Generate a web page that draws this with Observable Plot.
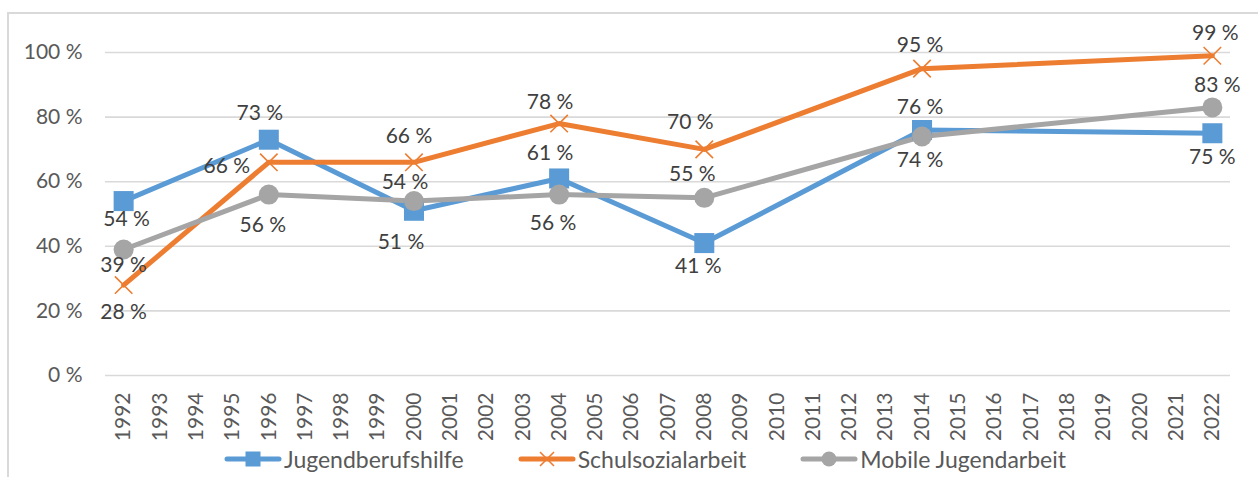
<!DOCTYPE html>
<html>
<head>
<meta charset="utf-8">
<script src="https://cdn.jsdelivr.net/npm/d3@7"></script>
<script src="https://cdn.jsdelivr.net/npm/@observablehq/plot@0.6"></script>
<style>
  html, body { margin: 0; padding: 0; background: #fff; }
  body { width: 1258px; height: 477px; position: relative; overflow: hidden; font-family: Lato, "Noto Sans", sans-serif; }
  #frame { position: absolute; left: 7px; top: 12px; width: 1300px; height: 500px; border-left: 2px solid #d9d9d9; border-top: 2px solid #d9d9d9; box-sizing: border-box; }
  #chart { position: absolute; left: 0; top: 0; }
  #legend { position: absolute; left: 0; top: 440px; width: 1258px; height: 37px; display: flex; align-items: center; justify-content: center; padding-left: 32px; box-sizing: border-box; font-size: 23px; color: #595959; }
  .item { display: flex; align-items: center; margin: 0 27px; }
  .item svg { margin-right: 2px; }
</style>
</head>
<body>
<div id="frame"></div>
<div id="chart"></div>
<div id="legend"></div>
<script>
// ---- data ----
const allYears = d3.range(1992, 2023);          // category axis 1992..2022
const surveyYears = [1992, 1996, 2000, 2004, 2008, 2014, 2022];
const seriesNames = ["Jugendberufshilfe", "Schulsozialarbeit", "Mobile Jugendarbeit"];
const jugendberufshilfe = [54, 73, 51, 61, 41, 76, 75];
const schulsozialarbeit = [28, 66, 66, 78, 70, 95, 99];
const mobileJugendarbeit = [39, 56, 54, 56, 55, 74, 83];
const yTicks = [0, 20, 40, 60, 80, 100];

// ---- label placement (layout only) ----
const labelDy = {
  "Jugendberufshilfe":   [18, -26, 31, -25, 23, -23, 24],
  "Schulsozialarbeit":   [27, 4, -26, -21, -27, -23, -22],
  "Mobile Jugendarbeit": [16, 31, -19, 29, -24, 24, -22]
};
const labelDx = {
  "Jugendberufshilfe":   [3, -9, -13, -9, -6, -2, 0],
  "Schulsozialarbeit":   [0, -42, -5, -9, -14, -2, 3],
  "Mobile Jugendarbeit": [0, -6, -9, -6, -12, -2, 5]
};

const colors = ["#5B9BD5", "#ED7D31", "#A5A5A5"];
const valuesBySeries = [jugendberufshilfe, schulsozialarbeit, mobileJugendarbeit];

const rows = [];
seriesNames.forEach((s, si) => {
  surveyYears.forEach((yr, i) => {
    rows.push({series: s, year: yr, value: valuesBySeries[si][i], dx: labelDx[s][i], dy: labelDy[s][i]});
  });
});
const bySeries = s => rows.filter(r => r.series === s);
const pct = v => v + "\u00a0%";

const textMarks = rows.map(r => Plot.text([r], {
  x: "year", y: "value", text: d => pct(d.value), dx: r.dx, dy: r.dy,
  fill: "#404040", fontSize: 21
}));

const chart = Plot.plot({
  width: 1258,
  height: 440,
  marginLeft: 105,
  marginRight: 28,
  marginTop: 52,
  marginBottom: 65,
  style: {fontFamily: "Lato, 'Noto Sans', sans-serif", fontSize: "21px", color: "#595959", background: "transparent"},
  x: {type: "point", domain: allYears, padding: 0.5, round: false, label: null},
  y: {domain: [0, 100], label: null},
  marks: [
    Plot.ruleY(yTicks, {stroke: "#d9d9d9", strokeWidth: 1.6}),
    Plot.axisY(yTicks, {tickSize: 0, tickPadding: 23, tickFormat: pct, label: null, fill: "#595959", fontSize: 21}),
    Plot.axisX(allYears, {tickSize: 0, tickPadding: 17, tickRotate: -90, tickFormat: d => String(d), label: null, fill: "#595959", fontSize: 21}),
    Plot.line(bySeries(seriesNames[0]), {x: "year", y: "value", stroke: colors[0], strokeWidth: 5, strokeLinejoin: "round", strokeLinecap: "round"}),
    Plot.line(bySeries(seriesNames[1]), {x: "year", y: "value", stroke: colors[1], strokeWidth: 5, strokeLinejoin: "round", strokeLinecap: "round"}),
    Plot.line(bySeries(seriesNames[2]), {x: "year", y: "value", stroke: colors[2], strokeWidth: 5, strokeLinejoin: "round", strokeLinecap: "round"}),
    Plot.dot(bySeries(seriesNames[0]), {x: "year", y: "value", symbol: "square", r: 11.3, fill: colors[0]}),
    Plot.dot(bySeries(seriesNames[1]), {x: "year", y: "value", symbol: "times", r: 8, stroke: colors[1], strokeWidth: 1.6}),
    Plot.dot(bySeries(seriesNames[2]), {x: "year", y: "value", symbol: "circle", r: 10, fill: colors[2]}),
    ...textMarks
  ]
});
document.getElementById("chart").appendChild(chart);

// ---- legend ----
const legend = d3.select("#legend");
const symbols = ["square", "times", "circle"];
seriesNames.forEach((s, i) => {
  const item = legend.append("div").attr("class", "item");
  const svg = item.append("svg").attr("width", 58).attr("height", 24);
  svg.append("line").attr("x1", 3).attr("x2", 55).attr("y1", 12).attr("y2", 12)
    .attr("stroke", colors[i]).attr("stroke-width", 5).attr("stroke-linecap", "round");
  if (symbols[i] === "square") {
    svg.append("rect").attr("x", 21.5).attr("y", 4.5).attr("width", 15).attr("height", 15).attr("fill", colors[i]);
  } else if (symbols[i] === "times") {
    svg.append("path").attr("d", "M22,5L36,19M36,5L22,19").attr("stroke", colors[i]).attr("stroke-width", 1.6).attr("fill", "none");
  } else {
    svg.append("circle").attr("cx", 29).attr("cy", 12).attr("r", 7.5).attr("fill", colors[i]);
  }
  item.append("span").text(s);
});
</script>
</body>
</html>
